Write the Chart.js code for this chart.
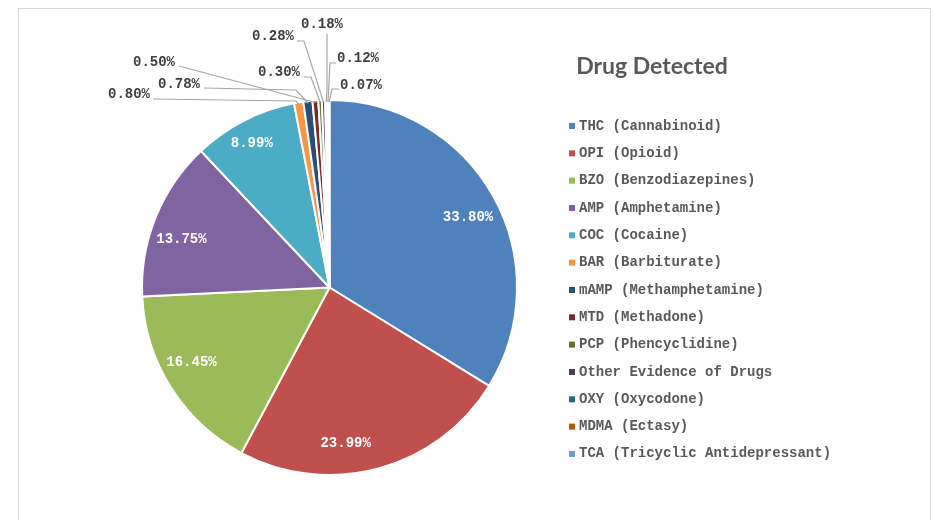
<!DOCTYPE html>
<html lang="en">
<head>
    <meta charset="UTF-8">
    <title>Drug Detected</title>
    <style>
        body { margin: 0; background: #fff; }
        #frame { position: absolute; left: 18px; top: 8px; width: 911px; height: 530px; border: 1px solid #d9d9d9; }
        #pie-chart { position: absolute; left: 0; top: 0; }
    </style>
</head>
<body>
    <div id="frame"></div>
    <canvas id="pie-chart" width="934" height="520"></canvas>

    <script src="https://cdn.jsdelivr.net/npm/chart.js"></script>
    <script>
        const chartTitle = "Drug Detected";
        const drugs = ["THC (Cannabinoid)", "OPI (Opioid)", "BZO (Benzodiazepines)", "AMP (Amphetamine)",
            "COC (Cocaine)", "BAR (Barbiturate)", "mAMP (Methamphetamine)", "MTD (Methadone)",
            "PCP (Phencyclidine)", "Other Evidence of Drugs", "OXY (Oxycodone)", "MDMA (Ectasy)",
            "TCA (Tricyclic Antidepressant)"];
        const percents = [33.80, 23.99, 16.45, 13.75, 8.99, 0.80, 0.78, 0.50, 0.30, 0.28, 0.18, 0.12, 0.07];
        const sliceColors = ["#4F81BD", "#C0504D", "#9BBB59", "#8064A2", "#4BACC6", "#F79646", "#2C4D75",
            "#772C2A", "#5F7530", "#4D3B62", "#276A7C", "#B65708", "#729ACA"];

        // where the labels go (text only, slices come from the chart)
        const insideNudge = [[1, 7], [-25, 4], [-5, -9], [-2, 11], [-6, -4]];
        const outsideLabels = [
            { i: 5,  x: 129, y: 94, line: [[153, 99], [296, 101]] },
            { i: 6,  x: 179, y: 84, line: [[204, 88], [296, 90]] },
            { i: 7,  x: 154, y: 62, line: [[179, 66]] },
            { i: 8,  x: 279, y: 72, line: [[304, 77], [311, 77]] },
            { i: 9,  x: 273, y: 36, line: [[297, 41], [304, 41]] },
            { i: 10, x: 322, y: 24, line: [[327, 34], [327, 90]] },
            { i: 11, x: 358, y: 58, line: [[336, 63], [330, 63]] },
            { i: 12, x: 361, y: 85, line: [[339, 89], [332, 89]] }
        ];

        const monoFont = 'bold 14px "Liberation Mono"';

        const labelPlugin = {
            id: 'labelPlugin',
            afterDatasetsDraw(chart) {
                const ctx = chart.ctx;
                const arcs = chart.getDatasetMeta(0).data;
                ctx.save();
                ctx.font = monoFont;
                ctx.textAlign = 'center';
                ctx.textBaseline = 'middle';

                // labels inside the big slices
                insideNudge.forEach((n, i) => {
                    const a = arcs[i];
                    const mid = (a.startAngle + a.endAngle) / 2;
                    const r = a.outerRadius * 0.84;
                    ctx.fillStyle = '#ffffff';
                    ctx.fillText(percents[i].toFixed(2) + '%', a.x + Math.cos(mid) * r + n[0], a.y + Math.sin(mid) * r + n[1]);
                });

                // small slices: leader lines
                outsideLabels.forEach(o => {
                    const a = arcs[o.i];
                    const mid = (a.startAngle + a.endAngle) / 2;
                    const ex = a.x + Math.cos(mid) * (a.outerRadius - 2);
                    const ey = a.y + Math.sin(mid) * (a.outerRadius - 2);
                    ctx.strokeStyle = '#a6a6a6';
                    ctx.lineWidth = 1.2;
                    ctx.beginPath();
                    ctx.moveTo(o.line[0][0], o.line[0][1]);
                    for (let k = 1; k < o.line.length; k++) ctx.lineTo(o.line[k][0], o.line[k][1]);
                    ctx.lineTo(ex, ey);
                    ctx.stroke();
                    ctx.fillStyle = '#404040';
                    ctx.fillText(percents[o.i].toFixed(2) + '%', o.x, o.y);
                });

                // title
                ctx.font = 'bold 22px Lato';
                const w = ctx.measureText(chartTitle).width;
                ctx.font = 'bold ' + (22 * 152 / w).toFixed(1) + 'px Lato';
                ctx.fillStyle = '#595959';
                ctx.fillText(chartTitle, 652, 67);

                // legend
                ctx.font = monoFont;
                ctx.textAlign = 'left';
                drugs.forEach((d, i) => {
                    const y = 126 + i * 27.33;
                    ctx.fillStyle = sliceColors[i];
                    ctx.fillRect(569, y - 3, 6, 6);
                    ctx.fillStyle = '#595959';
                    ctx.fillText(d, 579, y);
                });
                ctx.restore();
            }
        };

        const pieChart = new Chart(document.getElementById("pie-chart"), {
            type: 'pie',
            data: {
                labels: drugs,
                datasets: [{
                    data: percents,
                    backgroundColor: sliceColors,
                    borderColor: '#ffffff',
                    borderWidth: 2
                }]
            },
            options: {
                responsive: false,
                animation: false,
                layout: { padding: { left: 140, right: 415, top: 99, bottom: 44 } },
                plugins: {
                    legend: { display: false },
                    tooltip: { enabled: false }
                }
            },
            plugins: [labelPlugin]
        });
    </script>
</body>
</html>
